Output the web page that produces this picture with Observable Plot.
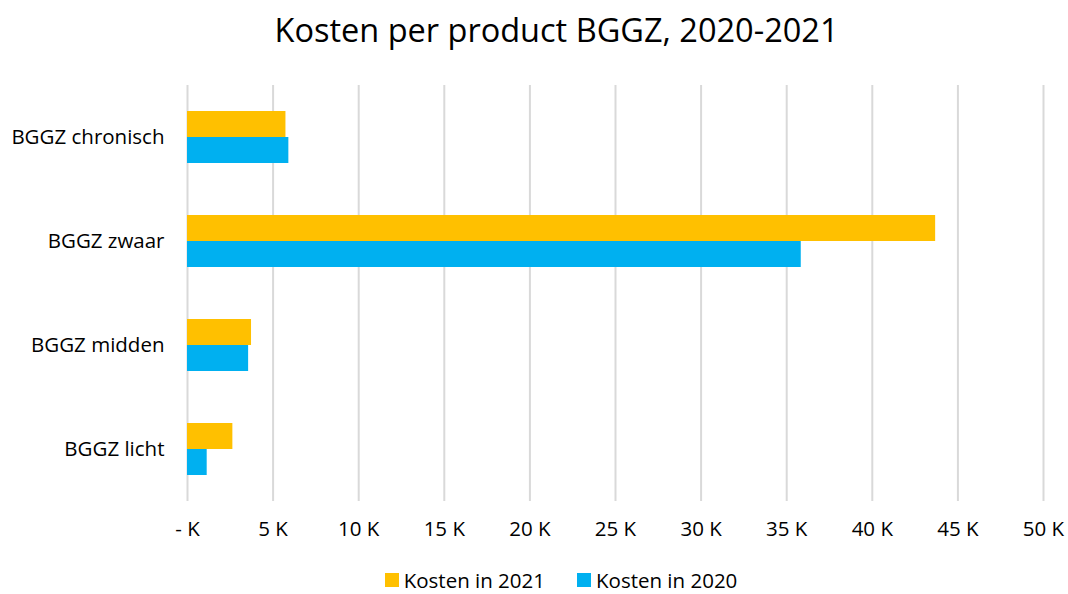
<!DOCTYPE html>
<html>
<head>
<meta charset="utf-8">
<script src="https://cdn.jsdelivr.net/npm/d3@7"></script>
<script src="https://cdn.jsdelivr.net/npm/@observablehq/plot@0.6"></script>
<style>
  body { margin: 0; background: #fff; font-family: "Open Sans", sans-serif; color: #000; }
  #wrap { width: 1068px; height: 594px; position: relative; overflow: hidden; }
  #title { height: 70px; line-height: 60px; text-align: center; font-size: 32.5px; padding-left: 45px; box-sizing: border-box; }
  #legend { position: absolute; left: 0; top: 566px; width: 1068px; display: flex; justify-content: center; gap: 32px; font-size: 20.5px; line-height: 28px; padding-left: 54px; box-sizing: border-box; }
  .item { display: flex; align-items: center; gap: 5px; }
  .sw { width: 14px; height: 14px; display: inline-block; }
</style>
</head>
<body>
<div id="wrap">
  <div id="title">Kosten per product BGGZ, 2020-2021</div>
  <div id="chart"></div>
  <div id="legend"></div>
</div>
<script>
const categories = ["BGGZ chronisch", "BGGZ zwaar", "BGGZ midden", "BGGZ licht"];
const kosten2021 = [5750, 43700, 3740, 2650];
const kosten2020 = [5920, 35850, 3570, 1150];
const seriesNames = ["Kosten in 2021", "Kosten in 2020"];
const seriesColors = ["#FFC000", "#00B0F0"];
const xTicks = [0, 5000, 10000, 15000, 20000, 25000, 30000, 35000, 40000, 45000, 50000];

const rows = [];
categories.forEach((c, i) => {
  rows.push({category: c, series: seriesNames[0], value: kosten2021[i]});
  rows.push({category: c, series: seriesNames[1], value: kosten2020[i]});
});

const chart = Plot.plot({
  width: 1068,
  height: 480,
  marginTop: 15,
  marginBottom: 49,
  marginLeft: 187,
  marginRight: 25,
  style: {fontFamily: "'Open Sans', sans-serif", fontSize: "20.5px", color: "#000", background: "#fff"},
  facet: {data: rows, y: "category"},
  fy: {domain: categories, padding: 0, label: null, tickSize: 0, tickPadding: 23},
  y: {domain: seriesNames, axis: null, paddingInner: 0, paddingOuter: 0.926},
  x: {domain: [0, 50000], ticks: xTicks, tickFormat: d => d === 0 ? "- K" : (d / 1000) + " K", tickSize: 0, tickPadding: 20, label: null},
  color: {domain: seriesNames, range: seriesColors},
  marks: [
    Plot.ruleX(xTicks, {stroke: "#D9D9D9", strokeWidth: 2}),
    Plot.barX(rows, {x: "value", y: "series", fill: "series", inset: 0})
  ]
});
document.getElementById("chart").appendChild(chart);

const legend = document.getElementById("legend");
seriesNames.forEach((n, i) => {
  const it = document.createElement("div");
  it.className = "item";
  const sw = document.createElement("span");
  sw.className = "sw";
  sw.style.background = seriesColors[i];
  const tx = document.createElement("span");
  tx.textContent = n;
  it.appendChild(sw); it.appendChild(tx);
  legend.appendChild(it);
});
</script>
</body>
</html>
